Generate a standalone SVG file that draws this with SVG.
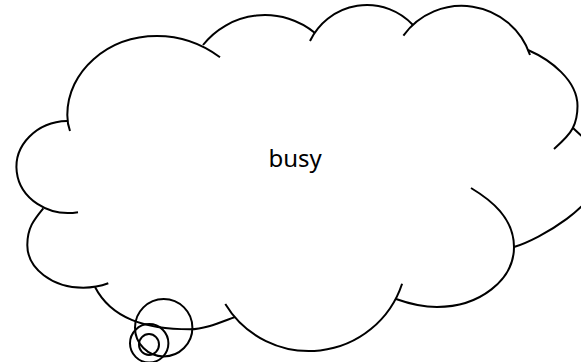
<svg xmlns="http://www.w3.org/2000/svg" width="581" height="362" viewBox="0 0 581 362">
  <style>
    .ln { fill: none; stroke: #000000; stroke-width: 2; stroke-linecap: butt; }
    .lbl { font-family: "Noto Sans", "Open Sans", "Liberation Sans", sans-serif; font-size: 24px; fill: #000000; }
  </style>
  <rect x="0" y="0" width="581" height="362" fill="#ffffff"/>
  <g id="cloud-callout">
    <path class="ln" d="M70,131 C68.3,126.5 67.3,121 67.3,115 C67.3,71.4 107.5,36 157,36 C185,36 205.6,46.5 220,57.3"/>
    <path class="ln" d="M203,45 A79,79 0 0 1 315,33"/>
    <path class="ln" d="M310,41 A63,63 0 0 1 413,25"/>
    <path class="ln" d="M403.4,35.6 A72,72 0 0 1 530,55"/>
    <path class="ln" d="M528,50 C550,59.6 577.5,80 577.5,106 C577.5,114 576.3,121.2 572.7,128.3 C569.1,135.4 560,143.7 554,149"/>
    <path class="ln" d="M514,247 C540,239 600,205 600,172 C600,150 592,146 573,128"/>
    <path class="ln" d="M396,299 C410,304 424,307 437,307 C479.5,307 514,280.1 514,247 C514,218 491,200 471,188"/>
    <path class="ln" d="M225.3,304 A98,98 0 0 0 402.1,283.7"/>
    <path class="ln" d="M95,287 C111.1,318.2 145,329.3 190,329.3 C205,329.3 220.9,322.1 235,317"/>
    <path class="ln" d="M43.3,208.3 C33.7,219.9 27.3,228 27.3,245 C27.3,268.6 52.4,287.7 83.3,287.7 C92,287.7 101,286 108.3,283.3"/>
    <path class="ln" d="M67,121 A52,46 0 1 0 78,212.2"/>
  </g>
  <g id="thought-bubbles">
    <circle class="ln" cx="163.7" cy="327.7" r="28.7"/>
    <circle class="ln" cx="149.2" cy="343.3" r="19.2"/>
    <ellipse class="ln" cx="149" cy="344.5" rx="10" ry="10.4"/>
  </g>
  <g id="connectors"/>
  <g id="label">
    <text class="lbl" x="268.5" y="167.3">busy</text>
  </g>
</svg>
